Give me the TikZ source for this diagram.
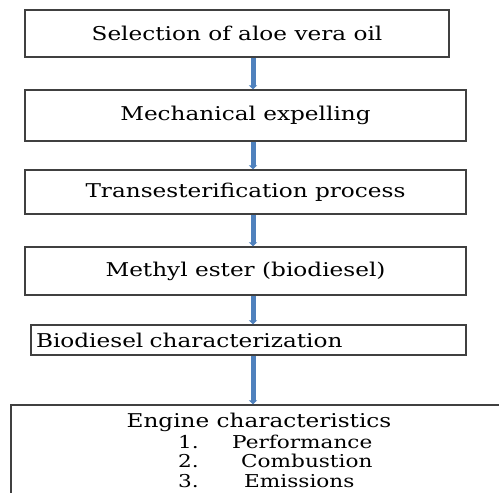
\documentclass[tikz,border=0pt]{standalone}
\usepackage{fontspec}
\setmainfont{DejaVu Serif}[FakeStretch=1.22]
\usetikzlibrary{arrows.meta,positioning}
\definecolor{flowblue}{RGB}{79,129,189}
\tikzset{
  stage/.style={draw=black!75, line width=1.2pt, minimum width=#1, inner sep=0pt,
    font=\fontsize{19}{22}\selectfont},
  item/.style={inner sep=0pt, anchor=base west, font=\fontsize{17.7}{21}\selectfont},
  flow/.style={draw=flowblue, line width=5pt, -{Triangle[width=8pt,length=4pt]}},
}
\begin{document}
\begin{tikzpicture}[x=1pt,y=-1pt]
   \useasboundingbox (0,0) rectangle (499,493);
   \coordinate (axis) at (253,0);
   % process stages
   \node[stage=424pt, minimum height=47pt] (sel) at (237,33.5) {Selection of aloe vera oil};
   \node[stage=441pt, minimum height=51pt] (mech) at (245.5,115.5) {Mechanical expelling};
   \node[stage=441pt, minimum height=44pt] (trans) at (245.5,192) {Transesterification process};
   \node[stage=441pt, minimum height=48pt] (ester) at (245.5,271) {Methyl ester (biodiesel)};
   \node[stage=435pt, minimum height=30pt, text width=425pt, align=left] (charac) at (248.5,340) {Biodiesel characterization};
   \node[stage=494pt, minimum height=100pt] (engine) at (258,455) {};
   % engine box contents
   \node[inner sep=0pt, font=\fontsize{19}{22}\selectfont] (title) at (259,422) {Engine characteristics};
   \node[item] (n1) at (178,448) {1.};
   \node[item] (perf) at (232,448) {Performance};
   \node[item] (n2) at (178,467) {2.};
   \node[item] (comb) at (241,467) {Combustion};
   \node[item] (n3) at (178,487) {3.};
   \node[item] (emis) at (244,487) {Emissions};
   % arrows
   \draw[flow] (sel.south -| axis) -- (mech.north -| axis);
   \draw[flow] (mech.south -| axis) -- (trans.north -| axis);
   \draw[flow] (trans.south -| axis) -- (ester.north -| axis);
   \draw[flow] (ester.south -| axis) -- (charac.north -| axis);
   \draw[flow] (charac.south -| axis) -- (engine.north -| axis);
\end{tikzpicture}
\end{document}
